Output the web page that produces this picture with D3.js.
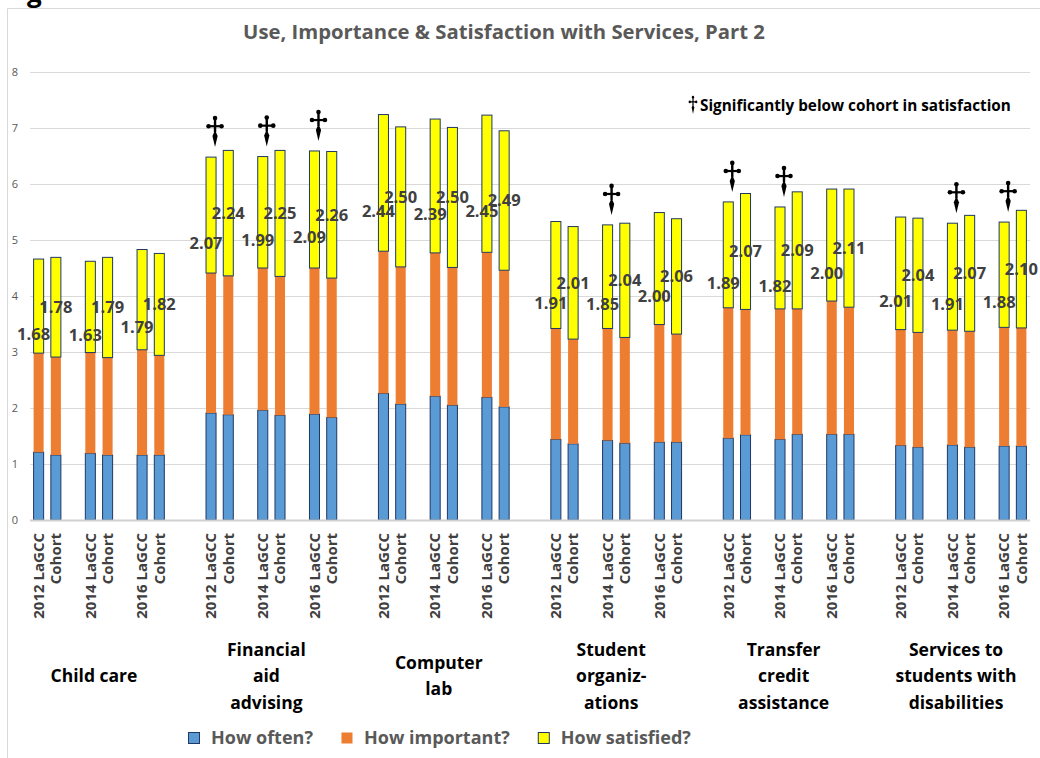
<!DOCTYPE html>
<html>
<head>
<meta charset="utf-8">
<script src="https://cdn.jsdelivr.net/npm/d3@7"></script>
<style>
  body { margin: 0; background: #fff; }
  svg { display: block; }
  text { font-family: "Open Sans", Lato, sans-serif; }
</style>
</head>
<body>
<svg id="chart" width="1040" height="758"></svg>
<script>
// ---- data ----
const services = ["Child care", "Financial aid advising", "Computer lab",
  "Student organizations", "Transfer credit assistance", "Services to students with disabilities"];
const serviceLines = [["Child care"], ["Financial", "aid", "advising"], ["Computer", "lab"],
  ["Student", "organiz-", "ations"], ["Transfer", "credit", "assistance"],
  ["Services to", "students with", "disabilities"]];
const years = ["2012", "2014", "2016"];
const respondents = ["LaGCC", "Cohort"];
const seriesNames = ["How often?", "How important?", "How satisfied?"];

// one value per bar: service > year > (LaGCC, Cohort)
const howOften = [
  1.21, 1.16, 1.19, 1.16, 1.16, 1.16,
  1.91, 1.88, 1.96, 1.87, 1.89, 1.83,
  2.26, 2.07, 2.21, 2.05, 2.19, 2.02,
  1.44, 1.36, 1.42, 1.37, 1.39, 1.39,
  1.46, 1.52, 1.44, 1.53, 1.53, 1.53,
  1.33, 1.30, 1.34, 1.30, 1.32, 1.32
];
const howImportant = [
  1.77, 1.75, 1.80, 1.74, 1.88, 1.78,
  2.50, 2.48, 2.54, 2.48, 2.61, 2.49,
  2.54, 2.45, 2.56, 2.46, 2.59, 2.44,
  1.98, 1.87, 2.00, 1.89, 2.10, 1.93,
  2.33, 2.24, 2.33, 2.24, 2.38, 2.27,
  2.07, 2.05, 2.05, 2.07, 2.12, 2.11
];
const howSatisfied = [
  1.68, 1.78, 1.63, 1.79, 1.79, 1.82,
  2.07, 2.24, 1.99, 2.25, 2.09, 2.26,
  2.44, 2.50, 2.39, 2.50, 2.45, 2.49,
  1.91, 2.01, 1.85, 2.04, 2.00, 2.06,
  1.89, 2.07, 1.82, 2.09, 2.00, 2.11,
  2.01, 2.04, 1.91, 2.07, 1.88, 2.10
];
// LaGCC significantly below cohort in satisfaction (service x year)
const belowCohort = [
  [0, 0, 0], [1, 1, 1], [0, 0, 0], [0, 1, 0], [1, 1, 0], [0, 1, 1]
];
const yTicks = [0, 1, 2, 3, 4, 5, 6, 7, 8];

// ---- build rows ----
const rows = [];
const slots = [];
services.forEach((s, si) => {
  years.forEach((y, yi) => {
    respondents.forEach((r, ri) => {
      const i = rows.length;
      const key = `${s}|${y}|${r}`;
      rows.push({
        key, service: s, si, year: y, resp: r, ri,
        often: howOften[i], important: howImportant[i], satisfied: howSatisfied[i],
        below: ri === 0 && belowCohort[si][yi] === 1
      });
      slots.push(key);
    });
    if (yi < years.length - 1) slots.push(`gap-${si}-${yi}`);
    else if (si < services.length - 1) slots.push(`gap-${si}-a`, `gap-${si}-b`);
  });
});

const svg = d3.select("#chart");
const W = 1040, H = 758;
const colors = ["#5b9bd5", "#ed7d31", "#ffff00"];
const strokes = ["#1f3864", "none", "#1f3864"];

// frame
svg.append("path")
  .attr("d", `M7.5,${H} V8.5 H${W}`)
  .attr("fill", "none").attr("stroke", "#d9d9d9");

// cropped heading above the chart
svg.append("text").attr("x", 27).attr("y", 2)
  .attr("font-size", 26).attr("font-weight", 700).attr("fill", "#000").text("g");

const x = d3.scaleBand().domain(slots).range([30, 1030]).paddingInner(0.36).paddingOuter(0.18);
const y = d3.scaleLinear().domain([0, 8]).range([520, 72]);

// gridlines
svg.append("g").selectAll("line").data(yTicks.filter(d => d > 0)).join("line")
  .attr("x1", 30).attr("x2", 1030)
  .attr("y1", d => Math.round(y(d)) + 0.5).attr("y2", d => Math.round(y(d)) + 0.5)
  .attr("stroke", "#d9d9d9").attr("stroke-width", 1);

// y axis labels
const yAxis = svg.append("g").attr("transform", "translate(18,0)")
  .call(d3.axisLeft(y).tickValues(yTicks).tickSize(0).tickPadding(0));
yAxis.select(".domain").remove();
yAxis.selectAll("text").attr("font-size", 11).attr("fill", "#595959")
  .attr("font-family", "'Open Sans', sans-serif");

// stacked bars
const stack = d3.stack().keys(["often", "important", "satisfied"]);
const layers = stack(rows);
const barG = svg.append("g");
layers.forEach((layer, li) => {
  barG.append("g").selectAll("rect").data(layer).join("rect")
    .attr("x", d => x(d.data.key) + 0.5)
    .attr("width", x.bandwidth() - 1)
    .attr("y", d => y(d[1]))
    .attr("height", d => y(d[0]) - y(d[1]))
    .attr("fill", colors[li])
    .attr("stroke", strokes[li])
    .attr("stroke-width", 1);
});

// baseline
svg.append("line").attr("x1", 30).attr("x2", 1030)
  .attr("y1", y(0) + 0.5).attr("y2", y(0) + 0.5)
  .attr("stroke", "#d0d0d0").attr("stroke-width", 2);

// data labels on satisfaction segment
const satLayer = layers[2];
svg.append("g").selectAll("text").data(satLayer).join("text")
  .attr("x", d => x(d.data.key) + x.bandwidth() / 2 + (d.data.ri === 0 ? -5 : 0))
  .attr("y", d => (y(d[0]) + y(d[1])) / 2 + (d.data.ri === 0 ? 28 : 0))
  .attr("dy", "0.35em")
  .attr("text-anchor", "middle")
  .attr("font-size", 16.5).attr("font-weight", 700).attr("fill", "#404040")
  .text(d => d.data.satisfied.toFixed(2));

// dagger marks
function dagger(g) {
  g.append("circle").attr("cx", 0).attr("cy", -29).attr("r", 2.3);
  g.append("rect").attr("x", -1.2).attr("y", -29).attr("width", 2.4).attr("height", 14);
  g.append("rect").attr("x", -6).attr("y", -22).attr("width", 12).attr("height", 2.2);
  g.append("circle").attr("cx", -6.5).attr("cy", -20.9).attr("r", 2.3);
  g.append("circle").attr("cx", 6.5).attr("cy", -20.9).attr("r", 2.3);
  g.append("path").attr("d", "M0,-17 L2.6,-11 L0,0 L-2.6,-11 Z");
}
satLayer.filter(d => d.data.below).forEach(d => {
  const g = svg.append("g").attr("fill", "#000")
    .attr("transform", `translate(${x(d.data.key) + x.bandwidth() / 2 + 4},${y(d[1]) - 10})`);
  dagger(g);
});

// note
const noteG = svg.append("g").attr("fill", "#000")
  .attr("transform", "translate(693,114) scale(0.5,0.58)");
dagger(noteG);
svg.append("text").attr("x", 700).attr("y", 111)
  .attr("font-size", 15.3).attr("font-weight", 700).attr("fill", "#000")
  .text("Significantly below cohort in satisfaction");

// title
svg.append("text").attr("x", 504).attr("y", 39).attr("text-anchor", "middle")
  .attr("font-size", 20.3).attr("font-weight", 700).attr("fill", "#595959")
  .text("Use, Importance & Satisfaction with Services, Part 2");

// bar category labels (rotated)
svg.append("g").selectAll("text").data(rows).join("text")
  .attr("transform", d => `translate(${x(d.key) + x.bandwidth() / 2},533) rotate(-90)`)
  .attr("dy", "0.35em")
  .attr("text-anchor", "end")
  .attr("font-size", 15).attr("font-weight", 700).attr("fill", "#404040")
  .text(d => d.ri === 0 ? `${d.year} ${d.resp}` : d.resp);

// service group labels
services.forEach((s, si) => {
  const keys = rows.filter(r => r.si === si).map(r => r.key);
  const cx = (x(keys[0]) + x(keys[keys.length - 1]) + x.bandwidth()) / 2 - 5;
  const lines = serviceLines[si];
  const lh = 26.5;
  const t = svg.append("text").attr("text-anchor", "middle")
    .attr("font-size", 17.5).attr("font-weight", 700).attr("fill", "#000");
  lines.forEach((ln, li) => {
    t.append("tspan").attr("x", cx)
      .attr("y", 676 + (li - (lines.length - 1) / 2) * lh)
      .attr("dy", "0.35em").text(ln);
  });
});

// legend
const legend = svg.append("g").attr("transform", "translate(188,738)");
let lx = 0;
seriesNames.forEach((n, i) => {
  const item = legend.append("g").attr("transform", `translate(${lx},0)`);
  item.append("rect").attr("x", 0.5).attr("y", -5.5).attr("width", 11).attr("height", 11)
    .attr("fill", colors[i]).attr("stroke", strokes[i]);
  const t = item.append("text").attr("x", 23).attr("dy", "0.35em")
    .attr("font-size", 18).attr("font-weight", 700).attr("fill", "#595959").text(n);
  lx += 23 + t.node().getComputedTextLength() + 28;
});
</script>
</body>
</html>
